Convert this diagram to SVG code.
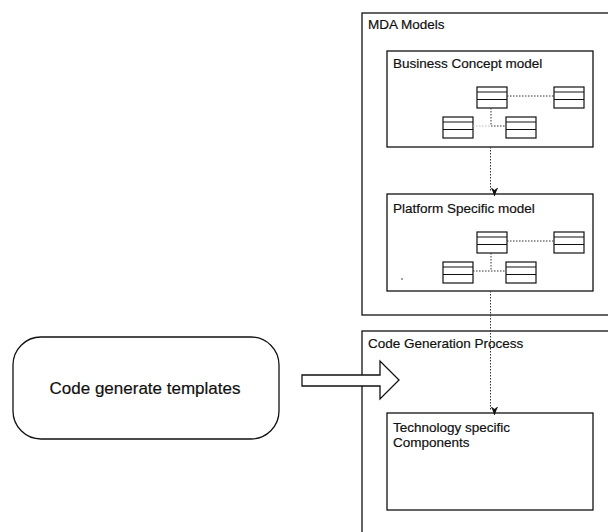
<svg xmlns="http://www.w3.org/2000/svg" width="608" height="532" viewBox="0 0 608 532">
<defs>
<style>
.box{fill:#fff;stroke:#111;stroke-width:1.3}
.lbl{font-family:"Liberation Sans",Arial,sans-serif;font-size:13.5px;fill:#111;stroke:#111;stroke-width:0.2}
.big{font-family:"Liberation Sans",Arial,sans-serif;font-size:17px;fill:#111;stroke:#111;stroke-width:0.2}
.cls{fill:#fff;stroke:#111;stroke-width:1.2}
.div{stroke:#111;stroke-width:1}
.dot{fill:none;stroke:#333;stroke-width:1;stroke-dasharray:1.5 1.5}
</style>
<marker id="ah" viewBox="0 0 8 10" refX="4" refY="9" markerWidth="8" markerHeight="10" markerUnits="userSpaceOnUse" orient="auto-start-reverse">
<path d="M0,0 L4,3 L8,0 L6,4 L4,10 L2,4 Z" fill="#111" transform="rotate(-90 4 5)"/>
</marker>
<g id="classicon">
<rect class="cls" x="0" y="0" width="30" height="21"/>
<line class="div" x1="0" y1="5" x2="30" y2="5"/>
<line class="div" x1="0" y1="12.5" x2="30" y2="12.5"/>
</g>
</defs>

<g id="mda-models">
<rect class="box" x="362" y="13" width="260" height="302"/>
<text class="lbl" x="368" y="29">MDA Models</text>
</g>

<g id="code-generation-process">
<rect class="box" x="362" y="331" width="260" height="215"/>
<text class="lbl" x="368" y="348">Code Generation Process</text>
</g>

<g id="business-concept-model">
<rect class="box" x="387" y="51" width="206" height="96"/>
<text class="lbl" x="393" y="68">Business Concept model</text>
<use href="#classicon" x="477" y="87"/>
<use href="#classicon" x="554" y="87"/>
<use href="#classicon" x="443" y="117"/>
<use href="#classicon" x="506" y="117"/>
<path class="dot" d="M507,96 H554"/>
<path class="dot" d="M491,108 V126 H506"/>
<path class="dot" d="M473,126 H491" style="stroke:#bbb"/>
</g>

<g id="platform-specific-model">
<rect class="box" x="387" y="194" width="206" height="97"/>
<text class="lbl" x="393" y="213">Platform Specific model</text>
<use href="#classicon" x="477" y="232"/>
<use href="#classicon" x="554" y="232"/>
<use href="#classicon" x="443" y="262"/>
<use href="#classicon" x="506" y="262"/>
<path class="dot" d="M507,241 H554"/>
<path class="dot" d="M491,253 V271 H506"/>
<path class="dot" d="M473,271 H491"/>
<circle cx="402" cy="279" r="0.8" fill="#333"/>
</g>

<g id="technology-specific-components">
<rect class="box" x="387" y="413" width="206" height="97"/>
<text class="lbl" x="393" y="432">Technology specific</text>
<text class="lbl" x="393" y="447">Components</text>
</g>

<g id="code-generate-templates">
<rect class="box" x="13" y="337" width="266" height="102" rx="28" ry="28"/>
<text class="big" x="145" y="394" text-anchor="middle">Code generate templates</text>
</g>

<g id="connectors">
<path class="dot" d="M490.5,147 V192" marker-end="url(#ah)"/>
<path class="dot" d="M490.5,291 V411" marker-end="url(#ah)"/>
<polygon points="302,375 380,375 380,361 399,380 380,399 380,386 302,386" fill="#fff" stroke="#111" stroke-width="1.3" stroke-linejoin="miter"/>
</g>
</svg>
